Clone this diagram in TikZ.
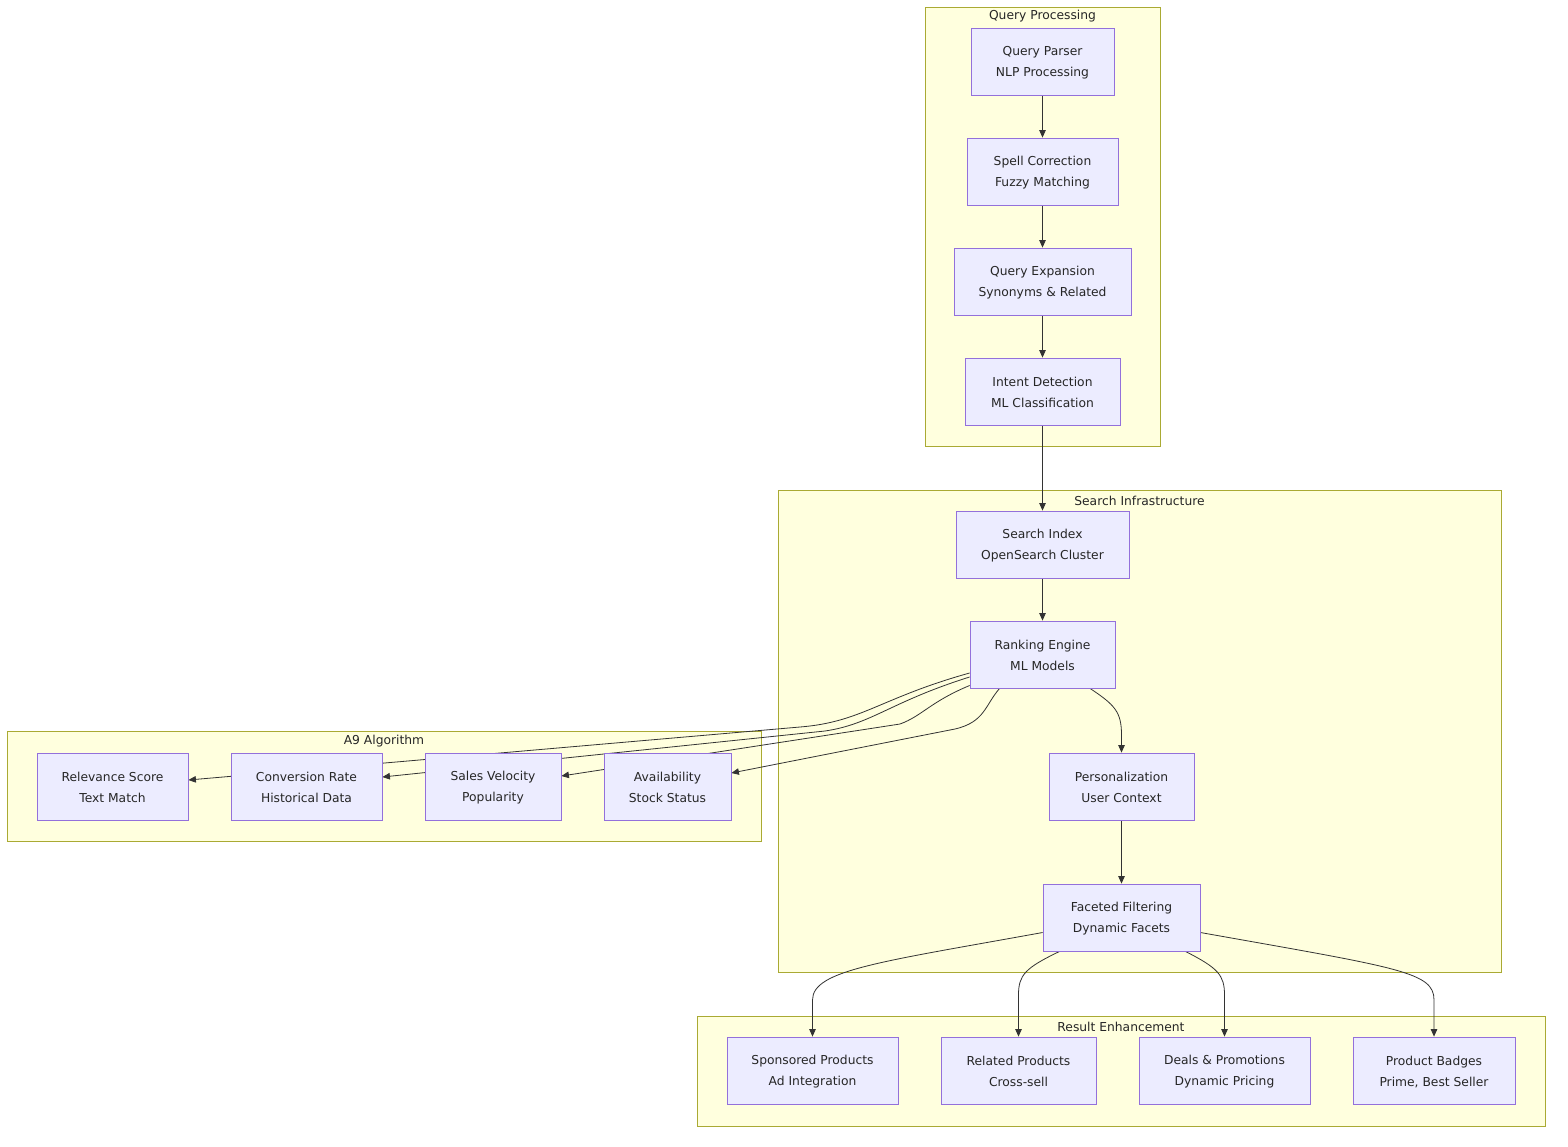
\documentclass[tikz,border=0pt]{standalone}
\usepackage{fontspec}
\setmainfont{DejaVu Sans}
\usetikzlibrary{calc,arrows.meta}
\pgfdeclarelayer{bg}
\pgfdeclarelayer{edges}
\pgfsetlayers{bg,edges,main}
\definecolor{clfill}{HTML}{FFFFDE}
\definecolor{cldraw}{HTML}{AAAA33}
\definecolor{ndfill}{HTML}{ECECFF}
\definecolor{nddraw}{HTML}{9370DB}
\definecolor{edgec}{HTML}{333333}
\newcommand\myfl{\rule{0pt}{12pt}}
\tikzset{
  cluster/.style={draw=cldraw,fill=clfill,line width=0.8pt},
  cltitle/.style={font=\fontsize{12.3}{14}\selectfont,text=black!85,inner sep=0pt},
  box/.style={draw=nddraw,fill=ndfill,line width=0.8pt,align=center,inner sep=0pt,
    minimum height=67pt,font=\fontsize{12.3}{21}\selectfont,text=black!85},
  edge/.style={draw=edgec,line width=0.8pt,-{Triangle[length=7.5pt,width=6.5pt]}}
}
\begin{document}
\begin{tikzpicture}[x=1pt,y=-1pt]
\useasboundingbox (0,0) rectangle (1568,1146);
\begin{pgfonlayer}{bg}
\fill[white] (0,0) rectangle (1568,1146);
\draw[cluster] (925,7) rectangle (1160,446);
\draw[cluster] (778,490) rectangle (1501,972);
\draw[cluster] (7,731) rectangle (761,841);
\draw[cluster] (697,1016) rectangle (1545,1126);
\end{pgfonlayer}
\node[cltitle] (tqp) at (1042.5,16.5) {Query Processing};
\node[cltitle] (tsi) at (1139.5,500.5) {Search Infrastructure};
\node[cltitle] (ta9) at (384,741.5) {A9 Algorithm};
\node[cltitle] (tre) at (1121,1026.5) {Result Enhancement};
% query processing nodes
\node[box,minimum width=143pt] (parser) at (1042.5,61.5) {\myfl Query Parser\\NLP Processing};
\node[box,minimum width=151pt] (spell) at (1042.5,171.5) {\myfl Spell Correction\\Fuzzy Matching};
\node[box,minimum width=177pt] (expand) at (1042.5,281.5) {\myfl Query Expansion\\Synonyms \& Related};
\node[box,minimum width=155pt] (intent) at (1042.5,391.5) {\myfl Intent Detection\\ML Classification};
% search infrastructure
\node[box,minimum width=173pt] (index) at (1042.5,544.5) {\myfl Search Index\\OpenSearch Cluster};
\node[box,minimum width=145pt] (rank) at (1042.5,654.5) {\myfl Ranking Engine\\ML Models};
\node[box,minimum width=145pt] (pers) at (1121.5,786.5) {\myfl Personalization\\User Context};
\node[box,minimum width=157pt] (facet) at (1121.5,917.5) {\myfl Faceted Filtering\\Dynamic Facets};
% A9
\node[box,minimum width=151pt] (relev) at (112.5,786.5) {\myfl Relevance Score\\Text Match};
\node[box,minimum width=151pt] (conv) at (306.5,786.5) {\myfl Conversion Rate\\Historical Data};
\node[box,minimum width=136pt] (sales) at (493,786.5) {\myfl Sales Velocity\\Popularity};
\node[box,minimum width=127pt] (avail) at (667.5,786.5) {\myfl Availability\\Stock Status};
% result enhancement
\node[box,minimum width=171pt] (spons) at (812.5,1070.5) {\myfl Sponsored Products\\Ad Integration};
\node[box,minimum width=155pt] (relp) at (1018.5,1070.5) {\myfl Related Products\\Cross-sell};
\node[box,minimum width=171pt] (deals) at (1224.5,1070.5) {\myfl Deals \& Promotions\\Dynamic Pricing};
\node[box,minimum width=162pt] (badges) at (1434,1070.5) {\myfl Product Badges\\Prime, Best Seller};
% edges
\begin{pgfonlayer}{edges}
\draw[edge] (parser) -- (spell);
\draw[edge] (spell) -- (expand);
\draw[edge] (expand) -- (intent);
\draw[edge] (intent) -- (index);
\draw[edge] (index) -- (rank);
\draw[edge] ($(rank.south)+(47.5,0)$) .. controls (1115,705) and (1121.5,712) .. (1121.5,735) -- (pers.north);
\draw[edge] ($(rank.west)+(0,18.5)$) .. controls (880,698) and (862,722) .. (800,727) -- ($(relev.east)+(0,-6.5)$);
\draw[edge] ($(rank.west)+(0,22.5)$) .. controls (890,702) and (872,724) .. (825,731) -- ($(conv.east)+(0,-9.5)$);
\draw[edge] ($(rank.west)+(0,31)$) .. controls (930,702) and (922,716) .. (900,724) -- ($(sales.east)+(0,-10.5)$);
\draw[edge] ($(rank.south west)+(30,0)$) .. controls (985,705) and (985,722) .. (955,729) -- ($(avail.east)+(0,-13.5)$);
\draw[edge] (pers) -- (facet);
\draw[edge] ($(facet.west)+(0,15)$) .. controls (880,962) and (812.5,970) .. (812.5,1000) -- (spons.north);
\draw[edge] ($(facet.south west)+(17,0)$) .. controls (1025,968) and (1018.5,975) .. (1018.5,995) -- (relp.north);
\draw[edge] ($(facet.south east)+(-15,0)$) .. controls (1218,968) and (1224.5,975) .. (1224.5,995) -- (deals.north);
\draw[edge] ($(facet.east)+(0,15)$) .. controls (1400,968) and (1434,972) .. (1434,1000) -- (badges.north);
\end{pgfonlayer}
\end{tikzpicture}
\end{document}
